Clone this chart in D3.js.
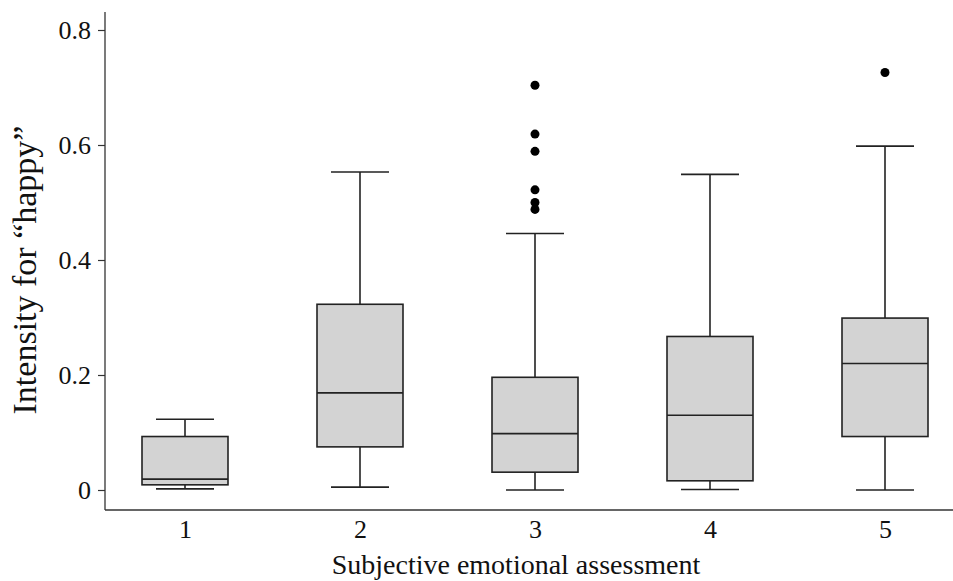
<!DOCTYPE html>
<html>
<head>
<meta charset="utf-8">
<script src="https://cdn.jsdelivr.net/npm/d3@7"></script>
<style>
  body { margin: 0; background: #fff; }
  svg text { font-family: "Liberation Serif", "Times New Roman", serif; fill: #111; }
</style>
</head>
<body>
<svg id="chart"></svg>
<script>
// categories on the x axis
const groups = ["1", "2", "3", "4", "5"];
// box statistics
const whiskerLow = [0.002, 0.005, 0.0, 0.001, 0.0];
const q1 = [0.009, 0.075, 0.031, 0.016, 0.093];
const median = [0.019, 0.169, 0.098, 0.130, 0.220];
const q3 = [0.093, 0.323, 0.196, 0.267, 0.299];
const whiskerHigh = [0.123, 0.553, 0.446, 0.549, 0.598];
// outliers per group
const outliers = [[], [], [0.704, 0.619, 0.589, 0.522, 0.500, 0.488], [], [0.726]];
const yTicks = [0, 0.2, 0.4, 0.6, 0.8];

const W = 953, H = 581;
const svg = d3.select("#chart").attr("width", W).attr("height", H);

const margin = { left: 105, bottom: 510, top: 12 };

const xscale = d3.scalePoint().domain(groups).range([185, 885]);
const yscale = d3.scaleLinear().domain([0, 0.8]).range([490, 30]);

const boxes = groups.map((g, i) => ({
  g, lo: whiskerLow[i], q1: q1[i], med: median[i], q3: q3[i], hi: whiskerHigh[i], out: outliers[i]
}));

// y axis
const g_yaxis = svg.append("g").attr("transform", `translate(${margin.left},0)`)
  .call(d3.axisLeft(yscale).tickValues(yTicks).tickSize(7).tickPadding(7)
    .tickFormat(d => d === 0 ? "0" : d3.format(".1f")(d)));
g_yaxis.select(".domain").remove();
g_yaxis.selectAll(".tick line").attr("stroke", "#333").attr("stroke-width", 1.2);
g_yaxis.selectAll(".tick text").attr("font-size", 26).style("font-family", "Liberation Serif");
svg.append("line").attr("x1", margin.left).attr("x2", margin.left).attr("y1", margin.top).attr("y2", margin.bottom)
  .attr("stroke", "#333").attr("stroke-width", 1.3);

// x axis
const g_xaxis = svg.append("g").attr("transform", `translate(0,${margin.bottom})`)
  .call(d3.axisBottom(xscale).tickSize(0).tickPadding(10));
g_xaxis.select(".domain").remove();
g_xaxis.selectAll(".tick text").attr("font-size", 26).style("font-family", "Liberation Serif");
svg.append("line").attr("x1", margin.left).attr("x2", W).attr("y1", margin.bottom).attr("y2", margin.bottom)
  .attr("stroke", "#333").attr("stroke-width", 1.3);

// axis titles
svg.append("text").attr("x", 516).attr("y", 574).attr("text-anchor", "middle")
  .attr("font-size", 28).text("Subjective emotional assessment");
svg.append("text").attr("transform", "translate(36,270) rotate(-90)").attr("text-anchor", "middle")
  .attr("font-size", 34).text("Intensity for \u201Chappy\u201D");

// boxes
const boxW = 86, capW = 58;
const stroke = "#222", sw = 1.6;
const bg = svg.append("g").selectAll("g").data(boxes).join("g")
  .attr("transform", d => `translate(${xscale(d.g)},0)`);

bg.append("line").attr("x1", 0).attr("x2", 0)
  .attr("y1", d => yscale(d.q3)).attr("y2", d => yscale(d.hi)).attr("stroke", stroke).attr("stroke-width", sw);
bg.append("line").attr("x1", 0).attr("x2", 0)
  .attr("y1", d => yscale(d.q1)).attr("y2", d => yscale(d.lo)).attr("stroke", stroke).attr("stroke-width", sw);
bg.append("line").attr("x1", -capW / 2).attr("x2", capW / 2)
  .attr("y1", d => yscale(d.hi)).attr("y2", d => yscale(d.hi)).attr("stroke", stroke).attr("stroke-width", sw);
bg.append("line").attr("x1", -capW / 2).attr("x2", capW / 2)
  .attr("y1", d => yscale(d.lo)).attr("y2", d => yscale(d.lo)).attr("stroke", stroke).attr("stroke-width", sw);
bg.append("rect").attr("x", -boxW / 2).attr("width", boxW)
  .attr("y", d => yscale(d.q3)).attr("height", d => yscale(d.q1) - yscale(d.q3))
  .attr("fill", "#d3d3d3").attr("stroke", stroke).attr("stroke-width", sw);
bg.append("line").attr("x1", -boxW / 2).attr("x2", boxW / 2)
  .attr("y1", d => yscale(d.med)).attr("y2", d => yscale(d.med)).attr("stroke", stroke).attr("stroke-width", sw);
bg.selectAll("circle").data(d => d.out).join("circle")
  .attr("cx", 0).attr("cy", d => yscale(d)).attr("r", 4.5).attr("fill", "#000");
</script>
</body>
</html>
